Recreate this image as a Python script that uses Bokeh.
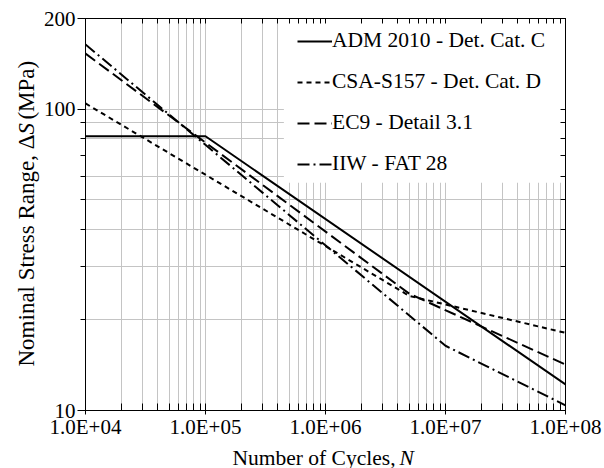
import math
from bokeh.plotting import figure
from bokeh.layouts import column, row
from bokeh.models import FixedTicker, LogAxis, Range1d, CustomJSTickFormatter, BoxAnnotation
from bokeh.core.properties import value
from bokeh.embed import file_html
from bokeh.resources import INLINE

# ---- data ----
adm_N = [1e4, 1e5, 1e8]
adm_S = [81.3, 81.3, 12.2]
csa_N = [1e4, 5e6, 1e8]
csa_S = [104.5, 24.0, 18.1]
ec9_N = [1e4, 5e6, 1e8]
ec9_S = [153.0, 24.4, 14.2]
iiw_N = [1e4, 1e7, 1e8]
iiw_S = [164.0, 16.4, 10.4]

series_names = ["ADM 2010 - Det. Cat. C", "CSA-S157 - Det. Cat. D",
                "EC9 - Detail 3.1", "IIW - FAT 28"]

x_ticks = [10000, 100000, 1000000, 10000000, 100000000]
x_tick_labels = ["1.0E+04", "1.0E+05", "1.0E+06", "1.0E+07", "1.0E+08"]
x_minor = [m * 10 ** e for e in range(4, 8) for m in range(2, 10)]
y_ticks = [10, 100, 200]
y_tick_labels = ["10", "100", "200"]
y_minor = [20, 30, 40, 50, 60, 70, 80, 90]
y_grid = [20, 30, 40, 50, 60, 80, 90, 100]

x_title = ["Number of Cycles,", "N"]
y_title = ["Nominal Stress Range, \u0394", "S", "(MPa)"]

FONT = "Liberation Serif"

W, H = 604, 468
YW = 40          # width of the y-title strip
XH = 22          # height of the x-title strip
MW, MH = W - YW, H - XH

p = figure(width=MW, height=MH, x_axis_type="log", y_axis_type="log",
           x_range=Range1d(1e4, 1e8), y_range=Range1d(10, 200),
           output_backend="svg", toolbar_location=None,
           min_border_left=82 - YW, min_border_right=39, min_border_top=18,
           min_border_bottom=MH - 410)
p.background_fill_color = "white"
p.border_fill_color = "white"
p.outline_line_color = "black"

xa = p.below[0]
xa.ticker = FixedTicker(ticks=x_ticks, minor_ticks=x_minor)
xa.major_label_overrides = dict(zip(x_ticks, x_tick_labels))
xa.major_label_text_font = FONT
xa.major_label_text_font_size = "21px"
xa.major_label_text_color = "black"
xa.major_label_standoff = 0
xa.major_tick_in = 7
xa.major_tick_out = 4
xa.minor_tick_in = 7
xa.minor_tick_out = 0
xa.axis_line_color = "black"

ya = p.left[0]
ya.ticker = FixedTicker(ticks=y_ticks, minor_ticks=y_minor)
ya.major_label_overrides = dict(zip(y_ticks, y_tick_labels))
ya.major_label_text_font = FONT
ya.major_label_text_font_size = "21px"
ya.major_label_text_color = "black"
ya.major_label_standoff = 2
ya.major_tick_in = 0
ya.major_tick_out = 8
ya.minor_tick_in = 0
ya.minor_tick_out = 5
ya.axis_line_color = "black"

p.xgrid.ticker = FixedTicker(ticks=sorted(x_ticks + x_minor))
p.ygrid.ticker = FixedTicker(ticks=y_grid)
for g in (p.xgrid, p.ygrid):
    g.grid_line_color = "#c4c4c4"
    g.grid_line_width = 1

blank = CustomJSTickFormatter(code="return ''")
top = LogAxis(ticker=FixedTicker(ticks=x_ticks, minor_ticks=x_minor), formatter=blank,
              major_tick_in=5, major_tick_out=0, minor_tick_in=5, minor_tick_out=0,
              major_label_text_font_size="1px", major_label_standoff=0,
              axis_line_color="black")
right = LogAxis(ticker=FixedTicker(ticks=y_ticks, minor_ticks=y_minor), formatter=blank,
                major_tick_in=5, major_tick_out=0, minor_tick_in=5, minor_tick_out=0,
                major_label_text_font_size="1px", major_label_standoff=0,
                axis_line_color="black")
p.add_layout(top, "above")
p.add_layout(right, "right")

# white panel behind the legend (hides the grid there, like the reference)
p.add_layout(BoxAnnotation(left=4.5e5, right=1e8, bottom=57, top=200,
                           fill_color="white", fill_alpha=1.0, line_color=None,
                           level="glyph"))

p.line(adm_N, adm_S, line_color="black", line_width=2, legend_label=series_names[0])
p.line(csa_N, csa_S, line_color="black", line_width=2, line_dash="5 4",
       legend_label=series_names[1])
p.line(ec9_N, ec9_S, line_color="black", line_width=2, line_dash="12 5",
       legend_label=series_names[2])
p.line(iiw_N, iiw_S, line_color="black", line_width=2, line_dash="12 4 2 4",
       legend_label=series_names[3])

lg = p.legend[0]
lg.location = (212, 234)     # legend bottom-left corner, px from the frame's bottom-left
lg.margin = 0
lg.padding = 10
lg.spacing = 16
lg.label_height = 24
lg.glyph_height = 24
lg.glyph_width = 35
lg.label_standoff = 0
lg.label_text_font = FONT
lg.label_text_font_size = "21.5px"
lg.label_text_color = "black"
lg.border_line_color = None
lg.background_fill_alpha = 0.0

# ---- y-title strip (pixel coordinates of this strip, y down) ----
yt = figure(width=YW, height=MH, x_range=Range1d(0, YW), y_range=Range1d(MH, 0),
            output_backend="svg", toolbar_location=None, min_border=0,
            x_axis_location=None, y_axis_location=None)
yt.grid.visible = False
yt.outline_line_color = None
yt.background_fill_color = "white"
yt.border_fill_color = "white"
ty = dict(angle=math.pi / 2, text_font=value(FONT), text_font_size="23px",
          text_color="black", text_baseline="alphabetic")
yt.text(x=[26], y=[132], text=[y_title[0]], text_align="right", **ty)
yt.text(x=[26], y=[132], text=[y_title[1]], text_align="left",
        text_font_style="italic", **ty)
yt.text(x=[26], y=[115], text=[y_title[2]], text_align="left", **ty)

# ---- x-title strip (y down) ----
xt = figure(width=W, height=XH, x_range=Range1d(0, W), y_range=Range1d(XH, 0),
            output_backend="svg", toolbar_location=None, min_border=0,
            x_axis_location=None, y_axis_location=None)
xt.grid.visible = False
xt.outline_line_color = None
xt.background_fill_color = "white"
xt.border_fill_color = "white"
tx = dict(text_font=value(FONT), text_font_size="21.5px", text_color="black",
          text_baseline="alphabetic")
xt.text(x=[395], y=[11], text=[x_title[0]], text_align="right", **tx)
xt.text(x=[399], y=[11], text=[x_title[1]], text_align="left",
        text_font_style="italic", **tx)

layout = column(row(yt, p, spacing=0), xt, spacing=0)
open("out.html", "w").write(file_html(layout, INLINE))
